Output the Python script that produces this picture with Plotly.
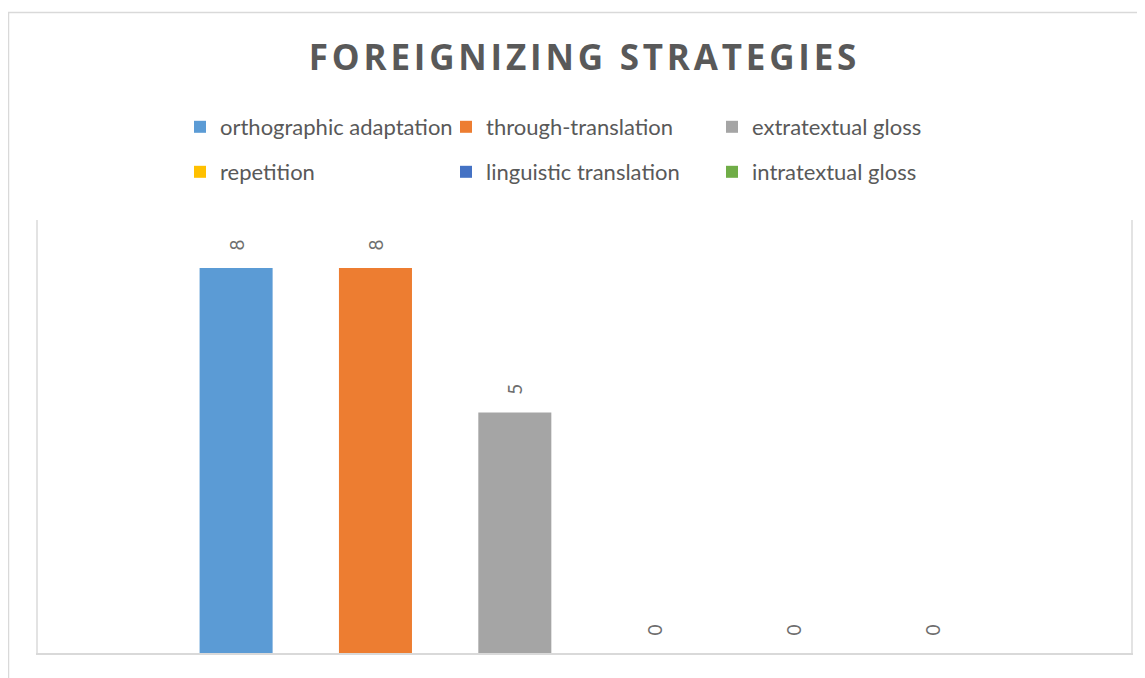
import plotly.graph_objects as go

CATEGORY = ["Foreignizing strategies"]
SERIES = ["orthographic adaptation", "through-translation", "extratextual gloss",
          "repetition", "linguistic translation", "intratextual gloss"]
VALUES = [8, 8, 5, 0, 0, 0]
COLORS = ["#5B9BD5", "#ED7D31", "#A5A5A5", "#FFC000", "#4472C4", "#70AD47"]
LEGEND_ROW = ["legend", "legend", "legend", "legend2", "legend2", "legend2"]

OFF = 8  # page body margin offset
W, H = 1145, 678
L, T = 38 - OFF, 220 - OFF
pw, ph = 1093, 433
R = W - L - pw
B = H - T - ph

fig = go.Figure()
for name, val, col, lg in zip(SERIES, VALUES, COLORS, LEGEND_ROW):
    fig.add_trace(go.Bar(
        x=CATEGORY, y=[val], name=name, marker_color=col, marker_line_width=0,
        text=[val], texttemplate="\u00a0\u00a0\u00a0%{y}", textposition="outside",
        textangle=-90, cliponaxis=False,
        textfont=dict(family="Lato", size=19, color="#6E6E6E"),
        legend=lg,
    ))

def px2x(px):
    return (px - OFF - L) / pw

def py2y(py):
    return (T + ph - (py - OFF)) / ph

legend_common = dict(
    orientation="h", xanchor="left", yanchor="middle",
    font=dict(family="Lato", size=22, color="#595959"),
    entrywidth=221, entrywidthmode="pixels", traceorder="normal",
    bgcolor="rgba(0,0,0,0)", itemclick=False, itemdoubleclick=False,
)

fig.update_layout(
    width=W, height=H,
    margin=dict(l=L, r=R, t=T, b=B),
    paper_bgcolor="white", plot_bgcolor="white",
    barmode="group", bargap=0.235, bargroupgap=0.476,
    title=dict(
        text='<b><span style="letter-spacing:3.8px">FOREIGNIZING STRATEGIES</span></b>',
        x=px2x(584.5), xref="paper", xanchor="center",
        y=1 - (58 - OFF) / H, yref="container", yanchor="middle",
        font=dict(family="Open Sans", size=35, color="#595959"),
    ),
    legend=dict(x=px2x(180), y=py2y(127), **legend_common),
    legend2=dict(x=px2x(180), y=py2y(172), **legend_common),
    xaxis=dict(range=[-0.5, 0.5], showticklabels=False, ticks="",
               showgrid=False, zeroline=False, showline=True,
               linecolor="#D9D9D9", linewidth=1.5, fixedrange=True),
    yaxis=dict(range=[0, 9], showticklabels=False, ticks="", showgrid=False,
               zeroline=False, showline=True, mirror=True,
               linecolor="#E3E3E3", linewidth=1.5, fixedrange=True),
    shapes=[dict(type="rect", xref="paper", yref="paper",
                 x0=px2x(8.5), x1=px2x(W + 20), y0=py2y(H + 20), y1=py2y(12.5),
                 line=dict(color="#D9D9D9", width=1.5), fillcolor="rgba(0,0,0,0)",
                 layer="below")],
    showlegend=True,
)

fig.write_html("out.html")
